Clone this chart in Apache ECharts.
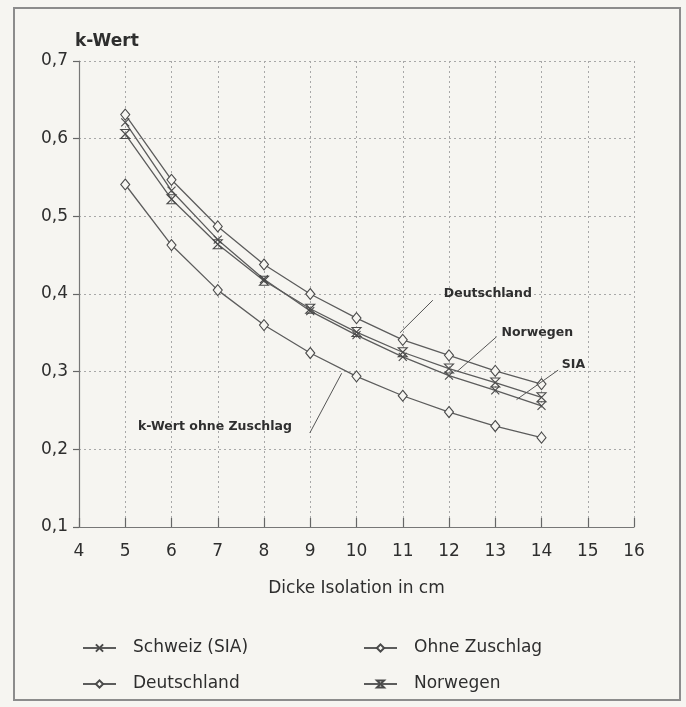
<!DOCTYPE html>
<html>
<head>
<meta charset="utf-8">
<script src="https://cdn.jsdelivr.net/npm/echarts@6/dist/echarts.min.js"></script>
<style>
  html, body { margin: 0; padding: 0; background: #f6f5f1; }
  #chart { width: 686px; height: 707px; }
</style>
</head>
<body>
<div id="chart"></div>
<script>
// Dicke der Isolation (cm)
const dicke = [5, 6, 7, 8, 9, 10, 11, 12, 13, 14]
// k-Werte je Land
const schweiz = [0.621, 0.533, 0.470, 0.419, 0.378, 0.347, 0.319, 0.295, 0.276, 0.256]
const deutschland = [0.631, 0.547, 0.487, 0.438, 0.400, 0.369, 0.341, 0.321, 0.301, 0.284]
const ohneZuschlag = [0.541, 0.463, 0.405, 0.360, 0.324, 0.294, 0.269, 0.248, 0.230, 0.215]
const norwegen = [0.606, 0.522, 0.464, 0.417, 0.381, 0.351, 0.325, 0.304, 0.286, 0.267]

// Beschriftungen im Diagramm (Datenkoordinaten)
const annoNames = ['Deutschland', 'Norwegen', 'SIA', 'k-Wert ohne Zuschlag']
const annoAt = [[12.84, 0.400], [13.91, 0.350], [14.69, 0.309], [6.94, 0.229]]
const annoFrom = [[11.65, 0.392], [13.03, 0.345], [14.36, 0.302], [8.99, 0.221]]
const annoTo = [[10.94, 0.350], [12.17, 0.300], [13.46, 0.264], [9.68, 0.298]]

const FONT = 'DejaVu Sans'
const TEXT = '#2e2e2e'
const LINE = '#5c5c5c'
const BG = '#f6f5f1'

const pair = (arr) => dicke.map((x, i) => [x, arr[i]])

const crossPath = 'path://M0,0L10,10M10,0L0,10'
const hourglassPath = 'path://M0,0L10,0L0,10L10,10Z'

const mkSeries = (name, arr, symbol, size, fill) => ({
  name: name,
  type: 'line',
  data: pair(arr),
  symbol: symbol,
  symbolSize: size,
  showAllSymbol: true,
  lineStyle: { color: LINE, width: 1.3 },
  itemStyle: { color: fill, borderColor: '#4a4a4a', borderWidth: 1.1 },
  emphasis: { disabled: true },
  z: 3
})

const myChart = echarts.init(document.getElementById('chart'))
const option = {
  backgroundColor: BG,
  animation: false,
  textStyle: { fontFamily: FONT },
  graphic: [{
    type: 'rect',
    shape: { x: 14, y: 8, width: 666, height: 692 },
    style: { fill: 'none', stroke: '#8c8c8c', lineWidth: 2 }
  }],
  grid: { left: 79, right: 52, top: 61, bottom: 180 },
  xAxis: {
    type: 'value',
    min: 4,
    max: 16,
    interval: 1,
    name: 'Dicke Isolation in cm',
    nameLocation: 'middle',
    nameGap: 53,
    nameTextStyle: { fontSize: 17, color: TEXT, fontFamily: FONT },
    axisLine: { lineStyle: { color: '#777', width: 1.2 } },
    axisTick: { inside: true, length: 9, lineStyle: { color: '#666', width: 1.2 } },
    axisLabel: { fontSize: 17, color: TEXT, margin: 16, fontFamily: FONT },
    splitLine: { show: true, lineStyle: { color: '#a8a8a8', type: [2, 3], width: 1 } }
  },
  yAxis: {
    type: 'value',
    min: 0.1,
    max: 0.7,
    interval: 0.1,
    name: 'k-Wert',
    nameLocation: 'end',
    nameGap: 11,
    nameTextStyle: { fontSize: 17, fontWeight: 'bold', color: TEXT, align: 'left', fontFamily: FONT, padding: [0, 0, 0, -4] },
    axisLine: { show: true, lineStyle: { color: '#777', width: 1.2 } },
    axisTick: { show: true, inside: false, length: 6, lineStyle: { color: '#666', width: 1.2 } },
    axisLabel: {
      fontSize: 17,
      color: TEXT,
      margin: 11,
      fontFamily: FONT,
      formatter: (v) => v.toFixed(1).replace('.', ',')
    },
    splitLine: { show: true, lineStyle: { color: '#a8a8a8', type: [2, 3], width: 1 } }
  },
  legend: [
    {
      orient: 'vertical',
      left: 77,
      top: 633,
      data: ['Schweiz (SIA)', 'Deutschland'],
      itemWidth: 33,
      itemHeight: 9,
      itemGap: 16,
      textStyle: { fontSize: 17, color: TEXT, fontFamily: FONT, lineHeight: 20, padding: [0, 0, 0, 12] }
    },
    {
      orient: 'vertical',
      left: 358,
      top: 633,
      data: ['Ohne Zuschlag', 'Norwegen'],
      itemWidth: 33,
      itemHeight: 9,
      itemGap: 16,
      textStyle: { fontSize: 17, color: TEXT, fontFamily: FONT, lineHeight: 20, padding: [0, 0, 0, 12] }
    }
  ],
  series: [
    mkSeries('Schweiz (SIA)', schweiz, crossPath, 8, 'none'),
    mkSeries('Deutschland', deutschland, 'diamond', [9, 11], BG),
    mkSeries('Ohne Zuschlag', ohneZuschlag, 'diamond', [9, 11], BG),
    mkSeries('Norwegen', norwegen, hourglassPath, [9, 9], 'none'),
    {
      name: 'anno',
      type: 'scatter',
      symbolSize: 0,
      silent: true,
      itemStyle: { opacity: 1 },
      data: annoNames.map((n, i) => ({ name: n, value: annoAt[i] })),
      label: {
        show: true,
        position: 'inside',
        formatter: '{b}',
        fontSize: 12.5,
        fontWeight: 'bold',
        color: '#2f2f2f',
        opacity: 1,
        textBorderWidth: 0,
        fontFamily: FONT
      },
      markLine: {
        silent: true,
        symbol: 'none',
        label: { show: false },
        lineStyle: { color: '#555', width: 1, type: 'solid', opacity: 1 },
        data: annoFrom.map((p, i) => [{ coord: p }, { coord: annoTo[i] }])
      },
      z: 4
    }
  ]
}
myChart.setOption(option)
</script>
</body>
</html>
